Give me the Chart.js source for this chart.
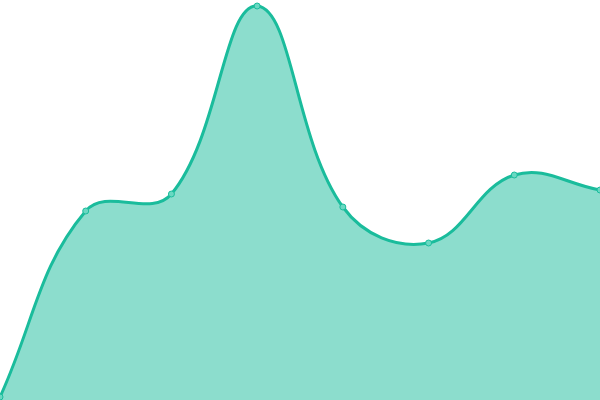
<!DOCTYPE html>
<html><head><meta charset="utf-8">
<script src="https://cdn.jsdelivr.net/npm/chart.js@4"></script>
<style>html,body{margin:0;padding:0;background:#fff}#wrap{width:600px;height:400px}</style>
</head><body><div id="wrap"><canvas id="c"></canvas></div>
<script>
const labels = ["A","B","C","D","E","F","G","H"];
const values = [0.75, 47.25, 51.5, 98.5, 48.25, 39.25, 56.25, 52.5];
new Chart(document.getElementById('c'), {
  type: 'line',
  data: { labels: labels, datasets: [{
    data: values,
    fill: true,
    backgroundColor: 'rgba(26,188,156,0.5)',
    borderColor: '#1abc9c',
    borderWidth: 3,
    pointRadius: 3,
    pointBackgroundColor: '#6ad8c2',
    pointBorderColor: '#1abc9c',
    pointBorderWidth: 1,
    tension: 0.4
  }]},
  options: {
    responsive: true, maintainAspectRatio: false, animation: false,
    layout: { padding: 0, autoPadding: false },
    plugins: { legend: { display: false }, tooltip: { enabled: false } },
    scales: {
      x: { display: false },
      y: { display: false, min: 0, max: 100 }
    }
  }
});
</script></body></html>
